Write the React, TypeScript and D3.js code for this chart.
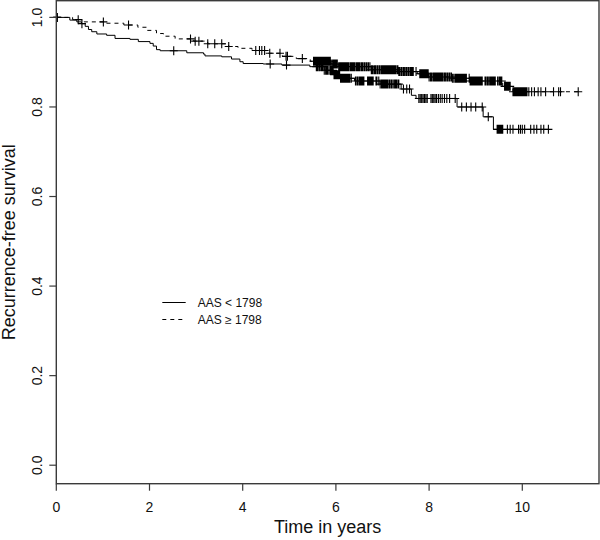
import React from 'react';
import * as d3 from 'd3';

const xTicks = [0, 2, 4, 6, 8, 10];
const yTicks = [0, 0.2, 0.4, 0.6, 0.8, 1.0];
const yTickLabels = ['0.0', '0.2', '0.4', '0.6', '0.8', '1.0'];
const groupNames = ['AAS < 1798', 'AAS \u2265 1798'];

// Group 1: AAS < 1798 (solid)
const lowTimes = [0, 0.29, 0.44, 0.54, 0.62, 0.69, 0.76, 0.87, 1.08, 1.26, 1.58, 1.76, 2.01, 2.08, 2.15, 2.23, 2.8, 3.16, 3.19, 3.55, 3.76, 3.94, 4.01, 4.44, 4.84, 5.44, 5.75, 5.95, 6.1, 6.4, 6.95, 7.4, 7.62, 7.72, 8.6, 9.16, 9.38];
const lowSurv = [1, 0.994, 0.99, 0.986, 0.98, 0.973, 0.968, 0.963, 0.96, 0.953, 0.951, 0.946, 0.942, 0.936, 0.928, 0.9255, 0.921, 0.918, 0.914, 0.912, 0.907, 0.901, 0.897, 0.896, 0.8935, 0.89, 0.882, 0.872, 0.864, 0.858, 0.851, 0.84, 0.826, 0.819, 0.8, 0.778, 0.75];
const lowEnd = 10.56;
const lowCensor = [0.02, 0.55, 2.52, 4.59, 4.94,
  5.58, 5.6, 5.62, 5.65, 5.68, 5.7, 5.72, 5.75, 5.78, 5.8, 5.82, 5.85, 5.88, 5.9, 5.92, 5.94, 5.96, 5.98, 6.0, 6.02, 6.04, 6.06, 6.08, 6.1, 6.12, 6.14, 6.16, 6.18, 6.2, 6.22, 6.24, 6.26, 6.28, 6.3, 6.33,
  6.42, 6.45, 6.47, 6.5, 6.52, 6.54, 6.56, 6.58, 6.6, 6.68, 6.7, 6.72, 6.74, 6.76, 6.78, 6.8, 6.86, 6.88, 6.92, 6.95, 6.98, 7.0, 7.02, 7.04, 7.06, 7.08, 7.1, 7.12, 7.15, 7.18, 7.2, 7.23, 7.26, 7.28, 7.3, 7.33, 7.35,
  7.45, 7.52, 7.58, 7.78, 7.81, 7.84, 7.87, 7.9, 7.93, 7.96, 8.04, 8.07, 8.1, 8.13, 8.16, 8.2, 8.24, 8.28, 8.33, 8.38, 8.44, 8.56, 8.7, 8.8, 8.9, 9.0, 9.14, 9.27,
  9.46, 9.48, 9.5, 9.52, 9.54, 9.56, 9.58, 9.68, 9.74, 9.8, 9.92, 9.96, 10.0, 10.05, 10.18, 10.25, 10.31, 10.4, 10.46, 10.56];

// Group 2: AAS >= 1798 (dashed)
const highTimes = [0, 0.35, 0.6, 1.05, 1.45, 1.75, 1.95, 2.15, 2.3, 2.55, 2.95, 3.25, 3.7, 3.9, 4.2, 4.55, 4.85, 5.15, 5.45, 5.9, 6.05, 6.75, 7.35, 7.75, 8.0, 8.5, 8.88, 9.58, 9.8];
const highSurv = [1, 0.995, 0.99, 0.987, 0.983, 0.978, 0.971, 0.964, 0.958, 0.952, 0.947, 0.941, 0.935, 0.931, 0.926, 0.92, 0.913, 0.908, 0.902, 0.896, 0.89, 0.883, 0.879, 0.874, 0.867, 0.864, 0.858, 0.846, 0.834];
const highEnd = 11.2;
const highCensor = [0.02, 0.47, 1.01, 1.55, 2.88, 2.98, 3.06, 3.25, 3.4, 3.55, 3.7, 4.28, 4.36, 4.41, 4.47, 4.58, 4.8, 4.93, 4.96, 5.28,
  5.52, 5.54, 5.56, 5.58, 5.6, 5.62, 5.64, 5.66, 5.68, 5.7, 5.72, 5.74, 5.76, 5.78, 5.8, 5.82, 5.84, 5.86, 5.88, 5.9, 5.93, 5.95, 5.97, 5.99, 6.01, 6.03, 6.06, 6.08, 6.1, 6.12, 6.14, 6.16, 6.18, 6.2, 6.22, 6.24, 6.26, 6.28, 6.31, 6.33, 6.35, 6.37, 6.39, 6.41, 6.44, 6.46, 6.48, 6.5, 6.52, 6.55, 6.57, 6.6, 6.62, 6.65, 6.67, 6.7, 6.73, 6.76, 6.78, 6.8, 6.83, 6.85, 6.88, 6.9, 6.93, 6.95, 6.98,
  7.0, 7.02, 7.04, 7.06, 7.08, 7.1, 7.12, 7.14, 7.16, 7.18, 7.2, 7.22, 7.24, 7.26, 7.28, 7.31, 7.33, 7.35, 7.37, 7.4, 7.42, 7.45, 7.47, 7.5, 7.52, 7.55, 7.57, 7.6, 7.62, 7.64, 7.66, 7.72,
  7.8, 7.82, 7.84, 7.86, 7.88, 7.9, 7.92, 7.94, 7.96, 7.98, 8.0, 8.03, 8.05, 8.08, 8.1, 8.12, 8.14, 8.16, 8.18, 8.2, 8.22, 8.24, 8.26, 8.28, 8.3, 8.33, 8.35, 8.38, 8.4, 8.43, 8.45, 8.48, 8.5, 8.53, 8.56, 8.58, 8.6, 8.62, 8.64, 8.66, 8.68, 8.7, 8.72, 8.74, 8.76, 8.78, 8.8,
  8.86, 8.88, 8.9, 8.92, 8.94, 8.96, 8.98, 9.0, 9.02, 9.04, 9.06, 9.08, 9.1, 9.12, 9.14, 9.2, 9.22, 9.25, 9.27, 9.3, 9.32, 9.34, 9.36, 9.38, 9.4, 9.42, 9.47, 9.5, 9.52, 9.54, 9.56, 9.62, 9.64, 9.66, 9.68, 9.7, 9.72, 9.74,
  9.8, 9.82, 9.84, 9.86, 9.88, 9.9, 9.92, 9.94, 9.96, 9.98, 10.0, 10.02, 10.04, 10.06, 10.08, 10.1, 10.14, 10.2, 10.26, 10.34, 10.4, 10.5, 10.67, 10.78, 10.82, 11.2];

const FONT = '"Liberation Sans", Arial, Helvetica, sans-serif';

export default function App() {
  const W = 600, H = 540;
  const left = 56.3, right = 599, top = 0.7, bottom = 483.7;
  const x = d3.scaleLinear().domain([0, 10]).range([left, 522.3]);
  const y = d3.scaleLinear().domain([0, 1]).range([465.2, 17.4]);

  const groups = [
    { times: lowTimes, surv: lowSurv, end: lowEnd, censor: lowCensor, dash: undefined as string | undefined },
    { times: highTimes, surv: highSurv, end: highEnd, censor: highCensor, dash: '4,4' },
  ];

  const line = d3.line<[number, number]>()
    .x(d => x(d[0]))
    .y(d => y(d[1]))
    .curve(d3.curveStepAfter);

  const survAt = (times: number[], surv: number[], t: number) => {
    const i = d3.bisectRight(times, t) - 1;
    return surv[Math.max(0, i)];
  };

  const legendY = [302.5, 319.5];

  return (
    <svg width={W} height={H} style={{ position: 'absolute', left: 0, top: 0, background: '#fff' }}
      fontFamily={FONT}>
      <rect x={0} y={0} width={W} height={H} fill="#fff" />
      {groups.map((g, gi) => {
        const pts: [number, number][] = g.times.map((t, i) => [t, g.surv[i]] as [number, number]);
        pts.push([g.end, g.surv[g.surv.length - 1]]);
        const marks = g.censor.map(t => {
          const cx = x(t), cy = y(survAt(g.times, g.surv, t));
          return `M${cx - 4},${cy}H${cx + 4}M${cx},${cy - 4.5}V${cy + 4.5}`;
        }).join('');
        return (
          <g key={gi}>
            <path d={line(pts) || ''} fill="none" stroke="#000" strokeWidth={1} strokeDasharray={g.dash} />
            <path d={marks} fill="none" stroke="#000" strokeWidth={1.1} />
          </g>
        );
      })}
      <rect x={left} y={top} width={right - left} height={bottom - top} fill="none" stroke="#3a3a3a" strokeWidth={1.4} />
      {xTicks.map(t => (
        <g key={'x' + t}>
          <line x1={x(t)} x2={x(t)} y1={bottom} y2={bottom + 7} stroke="#3a3a3a" strokeWidth={1.2} />
          <text x={x(t)} y={511.7} fontSize={14} textAnchor="middle" fill="#111">{t}</text>
        </g>
      ))}
      {yTicks.map((t, i) => (
        <g key={'y' + t}>
          <line x1={left - 7} x2={left} y1={y(t)} y2={y(t)} stroke="#3a3a3a" strokeWidth={1.2} />
          <text transform={`translate(41.7,${y(t)}) rotate(-90)`} fontSize={14} textAnchor="middle" fill="#111">{yTickLabels[i]}</text>
        </g>
      ))}
      <text x={(left + right) / 2} y={533} fontSize={18} textAnchor="middle" fill="#111">Time in years</text>
      <text transform={`translate(15,${(top + bottom) / 2}) rotate(-90)`} fontSize={18} textAnchor="middle" fill="#111">Recurrence-free survival</text>
      {groupNames.map((n, i) => (
        <g key={n}>
          <line x1={162.3} x2={185.7} y1={legendY[i]} y2={legendY[i]} stroke="#000" strokeWidth={1} strokeDasharray={groups[i].dash} />
          <text x={197.7} y={legendY[i] + 4.2} fontSize={12} fill="#111">{n}</text>
        </g>
      ))}
    </svg>
  );
}
